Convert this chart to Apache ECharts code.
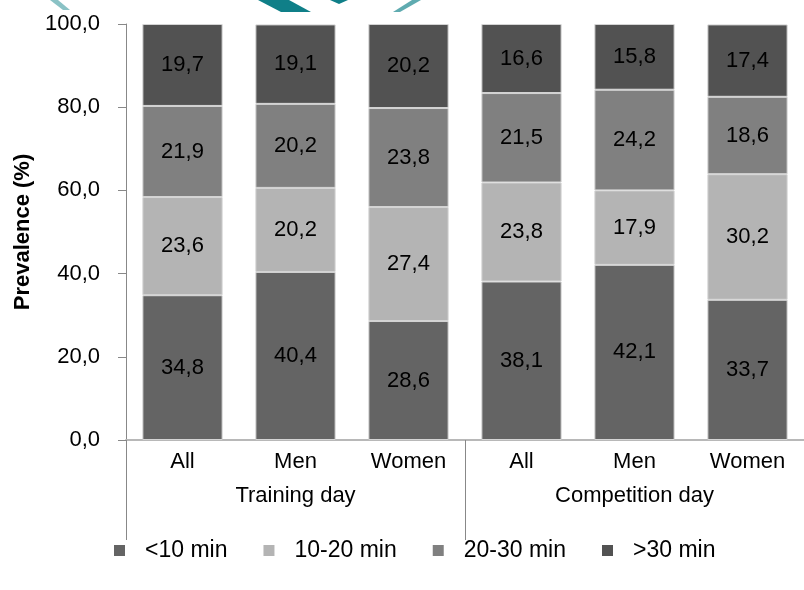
<!DOCTYPE html>
<html>
<head>
<meta charset="utf-8">
<script src="https://cdn.jsdelivr.net/npm/echarts@6/dist/echarts.min.js"></script>
<style>
  html, body { margin: 0; padding: 0; background: #fff; }
  #chart { width: 804px; height: 590px; }
</style>
</head>
<body>
<div id="chart"></div>
<script>
// Prevalence of sitting time by duration band, training vs competition day
const categories = ['All', 'Men', 'Women', 'All', 'Men', 'Women'];
const groups = ['Training day', 'Competition day'];
const yTicks = [0, 20, 40, 60, 80, 100];

const under10 = [34.8, 40.4, 28.6, 38.1, 42.1, 33.7];
const from10to20 = [23.6, 20.2, 27.4, 23.8, 17.9, 30.2];
const from20to30 = [21.9, 20.2, 23.8, 21.5, 24.2, 18.6];
const over30 = [19.7, 19.1, 20.2, 16.6, 15.8, 17.4];

const seriesNames = ['<10 min', '10-20 min', '20-30 min', '>30 min'];
const seriesData = [under10, from10to20, from20to30, over30];
const seriesColors = ['#646464', '#b4b4b4', '#808080', '#525252'];

const FONT = "'Liberation Sans Narrow', 'Liberation Sans', Arial, sans-serif";
const FS = 22;
const fmt = v => v.toFixed(1).replace('.', ',');

const chart = echarts.init(document.getElementById('chart'));

chart.setOption({
  animation: false,
  backgroundColor: '#ffffff',
  textStyle: { fontFamily: FONT, color: '#000' },
  grid: { left: 126, top: 24, width: 696, height: 416 },
  legend: {
    bottom: 23,
    left: 109,
    icon: 'rect',
    itemWidth: 11,
    itemHeight: 11,
    itemGap: 36,
    itemStyle: { borderWidth: 0 },
    textStyle: { fontFamily: FONT, fontSize: 23, color: '#000', padding: [0, 0, 0, 15] },
    data: seriesNames
  },
  xAxis: [
    {
      type: 'category',
      data: categories,
      axisLine: { lineStyle: { color: '#b8b8b8', width: 2 } },
      axisTick: { show: false },
      axisLabel: { margin: 11, fontFamily: FONT, fontSize: FS, color: '#000', interval: 0 }
    },
    {
      type: 'category',
      data: groups,
      position: 'bottom',
      axisLine: { show: false },
      axisTick: { show: true, length: 100, interval: 0, lineStyle: { color: '#888', width: 1 } },
      axisLabel: { margin: 45, fontFamily: FONT, fontSize: FS, color: '#000', interval: 0 }
    }
  ],
  yAxis: {
    type: 'value',
    min: yTicks[0],
    max: yTicks[yTicks.length - 1],
    interval: 20,
    name: 'Prevalence (%)',
    nameLocation: 'middle',
    nameGap: 91,
    nameTextStyle: { fontFamily: FONT, fontSize: FS, fontWeight: 'bold', color: '#000' },
    axisLine: { show: true, lineStyle: { color: '#888', width: 1 } },
    axisTick: { show: true, length: 8, lineStyle: { color: '#888' } },
    splitLine: { show: false },
    axisLabel: { margin: 26, fontFamily: FONT, fontSize: FS, color: '#000', formatter: v => fmt(v) }
  },
  series: seriesNames.map((name, i) => ({
    name,
    type: 'bar',
    stack: 'total',
    xAxisIndex: 0,
    barCategoryGap: '29%',
    data: seriesData[i],
    itemStyle: { color: seriesColors[i], borderColor: '#d4d4d4', borderWidth: 1 },
    label: {
      show: true,
      position: 'inside',
      fontFamily: FONT,
      fontSize: FS,
      color: '#000',
      formatter: p => fmt(p.value)
    }
  })),
  graphic: [
    // teal logo strokes peeking in at the top edge
    { type: 'polygon', silent: true, shape: { points: [[50, 0], [58, 0], [70, 10], [63, 10]] }, style: { fill: '#2a8f96', opacity: 0.55 } },
    { type: 'polygon', silent: true, shape: { points: [[258, 0], [289, 0], [311, 12], [281, 12]] }, style: { fill: '#0f7f88' } },
    { type: 'polygon', silent: true, shape: { points: [[330, 0], [348, 0], [339, 4]] }, style: { fill: '#0f7f88' } },
    { type: 'polygon', silent: true, shape: { points: [[412, 0], [421, 0], [400, 12], [393, 12]] }, style: { fill: '#2a8f96', opacity: 0.75 } }
  ]
});
</script>
</body>
</html>
